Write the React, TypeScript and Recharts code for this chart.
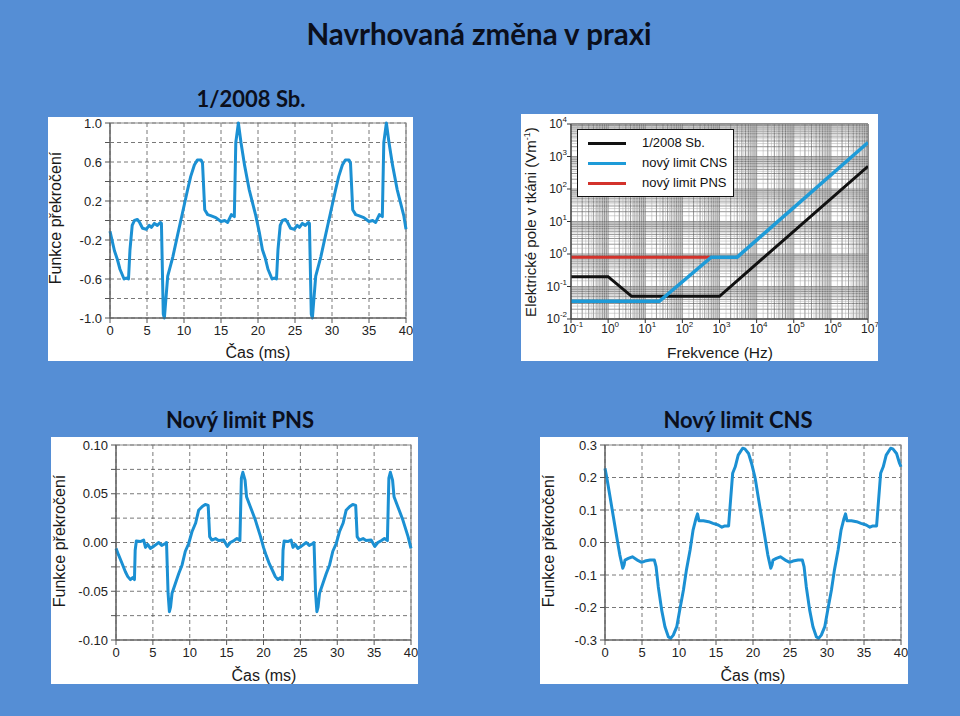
import React from "react";
import {
  LineChart,
  Line,
  XAxis,
  YAxis,
  CartesianGrid,
  ReferenceArea,
  ReferenceLine,
} from "recharts";

// ---- data ----

const timeTicks = [0, 5, 10, 15, 20, 25, 30, 35, 40];

const sbTicks = [-1, -0.8, -0.6, -0.4, -0.2, 0, 0.2, 0.4, 0.6, 0.8, 1];
const sbLabeled = [-1, -0.6, -0.2, 0.2, 0.6, 1];
const pnsTicks = [-0.1, -0.075, -0.05, -0.025, 0, 0.025, 0.05, 0.075, 0.1];
const pnsLabeled = [-0.1, -0.05, 0, 0.05, 0.1];
const cnsTicks = [-0.3, -0.2, -0.1, 0, 0.1, 0.2, 0.3];
const cnsLabeled = [-0.3, -0.2, -0.1, 0, 0.1, 0.2, 0.3];

// 1/2008 Sb. (t in ms, exceedance)
const sbWave: [number, number][] = [
  [0, -0.11], [0.6, -0.31], [1.0, -0.4], [1.35, -0.5], [1.9, -0.6], [2.2, -0.59], [2.5, -0.6],
  [2.7, -0.3], [3.0, -0.05], [3.3, 0.0], [3.7, 0.01], [4.0, -0.02], [4.4, -0.08], [4.9, -0.09],
  [5.3, -0.05], [5.6, -0.07], [6.0, -0.03], [6.4, -0.05], [6.8, -0.02], [6.95, -0.03],
  [7.2, -0.96], [7.35, -1.0], [7.8, -0.57], [8.5, -0.37], [9.1, -0.16], [9.8, 0.08],
  [10.5, 0.32], [10.9, 0.45], [11.4, 0.57], [11.8, 0.62], [12.3, 0.62], [12.5, 0.59],
  [12.8, 0.11], [13.2, 0.06], [13.6, 0.05], [14.3, 0.03], [15.0, -0.01], [15.5, 0.0],
  [15.9, -0.02], [16.4, 0.06], [16.8, 0.04], [17.0, 0.8], [17.35, 1.0], [17.7, 0.8],
  [18.2, 0.56], [18.8, 0.32], [19.7, 0.05],
  [20.2, -0.13], [20.6, -0.3], [21.0, -0.39], [21.35, -0.5], [21.9, -0.6], [22.2, -0.59],
  [22.5, -0.6], [22.7, -0.3], [23.0, -0.05], [23.3, 0.0], [23.7, 0.01], [24.0, -0.02],
  [24.4, -0.08], [24.9, -0.09], [25.3, -0.05], [25.6, -0.07], [26.0, -0.03], [26.4, -0.05],
  [26.8, -0.02], [26.95, -0.03], [27.2, -0.96], [27.35, -1.0], [27.8, -0.57], [28.5, -0.37],
  [29.1, -0.16], [29.8, 0.08], [30.5, 0.32], [30.9, 0.45], [31.4, 0.57], [31.8, 0.62],
  [32.3, 0.62], [32.5, 0.59], [32.8, 0.11], [33.2, 0.06], [33.6, 0.05], [34.3, 0.03],
  [35.0, -0.01], [35.5, 0.0], [35.9, -0.02], [36.4, 0.06], [36.8, 0.04], [37.0, 0.8],
  [37.35, 1.0], [37.7, 0.8], [38.2, 0.56], [38.8, 0.32], [39.7, 0.05], [40, -0.09],
];

// Nový limit PNS
const pnsWave: [number, number][] = [
  [0, -0.006], [0.36, -0.013], [0.8, -0.021], [1.27, -0.03], [1.6, -0.035], [1.95, -0.038],
  [2.26, -0.036], [2.5, -0.038], [2.6, -0.008], [2.76, 0.0015], [3.3, 0.001], [3.75, 0.0025],
  [4.0, -0.005], [4.3, -0.002], [4.66, -0.006], [5.1, -0.004], [5.8, 0.0], [6.2, -0.003],
  [6.7, -0.001], [6.85, 0.0], [7.06, -0.052], [7.24, -0.071], [7.4, -0.066], [7.6, -0.052],
  [8.05, -0.042], [8.5, -0.032], [8.96, -0.023], [9.4, -0.009], [9.86, -0.001], [10.3, 0.011],
  [10.8, 0.02], [11.2, 0.033], [11.7, 0.037], [12.1, 0.039], [12.5, 0.038], [12.7, 0.006],
  [13.0, 0.0025], [13.5, 0.004], [13.9, 0.002], [14.6, 0.0025], [15.1, -0.004], [15.5, 0.0],
  [16.0, 0.002], [16.4, 0.004], [16.8, 0.002], [17.0, 0.066], [17.2, 0.072], [17.5, 0.064],
  [17.7, 0.047], [18.2, 0.037], [18.9, 0.023], [19.6, 0.006],
  [20.0, -0.005], [20.4, -0.014], [20.8, -0.022], [21.3, -0.03], [21.6, -0.035], [21.95, -0.038],
  [22.3, -0.036], [22.55, -0.038], [22.65, -0.008], [22.8, 0.0015], [23.3, 0.001], [23.75, 0.0025],
  [24.0, -0.005], [24.3, -0.002], [24.66, -0.006], [25.1, -0.004], [25.8, 0.0], [26.2, -0.003],
  [26.7, -0.001], [26.85, 0.0], [27.06, -0.052], [27.24, -0.071], [27.4, -0.066], [27.6, -0.052],
  [28.05, -0.042], [28.5, -0.032], [28.96, -0.023], [29.4, -0.009], [29.86, -0.001], [30.3, 0.011],
  [30.8, 0.02], [31.2, 0.033], [31.7, 0.037], [32.1, 0.039], [32.5, 0.038], [32.7, 0.006],
  [33.0, 0.0025], [33.5, 0.004], [33.9, 0.002], [34.6, 0.0025], [35.1, -0.004], [35.5, 0.0],
  [36.0, 0.002], [36.4, 0.004], [36.8, 0.002], [37.0, 0.066], [37.2, 0.072], [37.5, 0.064],
  [37.7, 0.047], [38.2, 0.037], [38.9, 0.023], [39.6, 0.006], [40, -0.006],
];

// Nový limit CNS
const cnsWave: [number, number][] = [
  [0, 0.228], [0.3, 0.192], [0.68, 0.141], [1.13, 0.079], [1.58, 0.018], [2.0, -0.038],
  [2.4, -0.079], [2.57, -0.069], [2.7, -0.054], [3.15, -0.049], [3.7, -0.044], [4.05, -0.049],
  [4.5, -0.056], [4.95, -0.061], [5.4, -0.057], [6.1, -0.054], [6.67, -0.054], [6.9, -0.074],
  [7.2, -0.136], [7.66, -0.208], [8.1, -0.259], [8.56, -0.29], [8.87, -0.295], [9.23, -0.285],
  [9.7, -0.259], [10.1, -0.208], [10.6, -0.146], [11.0, -0.085], [11.5, -0.023], [11.9, 0.038],
  [12.3, 0.074], [12.5, 0.088], [12.7, 0.067], [13.3, 0.067], [14.0, 0.064], [14.6, 0.059],
  [15.3, 0.054], [15.8, 0.047], [16.2, 0.051], [16.7, 0.051], [16.9, 0.11], [17.25, 0.213],
  [17.6, 0.233], [18.0, 0.269], [18.6, 0.29], [18.9, 0.288], [19.4, 0.274], [19.8, 0.244],
  [20.3, 0.197], [20.7, 0.141], [21.15, 0.079], [21.6, 0.018], [22.0, -0.038], [22.4, -0.079],
  [22.57, -0.069], [22.7, -0.054], [23.15, -0.049], [23.7, -0.044], [24.05, -0.049],
  [24.5, -0.056], [24.95, -0.061], [25.4, -0.057], [26.1, -0.054], [26.67, -0.054], [26.9, -0.074],
  [27.2, -0.136], [27.66, -0.208], [28.1, -0.259], [28.56, -0.29], [28.87, -0.295], [29.23, -0.285],
  [29.7, -0.259], [30.1, -0.208], [30.6, -0.146], [31.0, -0.085], [31.5, -0.023], [31.9, 0.038],
  [32.3, 0.074], [32.5, 0.088], [32.7, 0.067], [33.3, 0.067], [34.0, 0.064], [34.6, 0.059],
  [35.3, 0.054], [35.8, 0.047], [36.2, 0.051], [36.7, 0.051], [36.9, 0.11], [37.25, 0.213],
  [37.6, 0.233], [38.0, 0.269], [38.6, 0.29], [38.9, 0.288], [39.4, 0.274], [39.8, 0.244],
  [40, 0.233],
];

// limits vs frequency (Hz, V/m)
const oldLimit: [number, number][] = [[0.1, 0.2], [1, 0.2], [4.3, 0.05], [1000, 0.05], [1e7, 500]];
const cnsLimit: [number, number][] = [[0.1, 0.035], [24, 0.035], [600, 0.8], [3000, 0.8], [1e7, 2700]];
const pnsLimit: [number, number][] = [[0.1, 0.8], [600, 0.8]];

const freqDecades = [-1, 0, 1, 2, 3, 4, 5, 6];
const fieldDecades = [-2, -1, 0, 1, 2, 3];
const gridMults = [1, 2, 3, 4, 5, 6, 7, 8, 9];
const halfMults = [1.5, 2.5, 3.5, 4.5, 5.5, 6.5, 7.5, 8.5, 9.5];

const legendItems = [
  { name: "1/2008 Sb.", color: "#111111" },
  { name: "nový limit CNS", color: "#1e9bd8" },
  { name: "nový limit PNS", color: "#d3322b" },
];

// ---- helpers ----

const WAVE = "#1b90d3";
const TICK_FONT = "'Liberation Sans', Arial, sans-serif";
const HEAD_FONT = "Lato, 'Open Sans', sans-serif";

type Box = { x: number; y: number; w: number; h: number };
type Plot = { l: number; t: number; r: number; b: number };

// small outer margins; the rest of the space goes to the axes
function marginOf() {
  return { top: 0, right: 0, bottom: 2, left: 2 };
}

function near(list: number[], v: number) {
  return list.some((x) => Math.abs(x - v) < 1e-9);
}

function Heading({ x, y, size, children }: { x: number; y: number; size: number; children: React.ReactNode }) {
  return (
    <div
      style={{
        position: "absolute",
        left: x,
        top: y,
        transform: "translate(-50%, -50%)",
        whiteSpace: "nowrap",
        fontFamily: HEAD_FONT,
        fontWeight: 700,
        fontSize: size,
        lineHeight: 1,
        color: "#0b0f1c",
      }}
    >
      {children}
    </div>
  );
}

function AxisTitle({ x, y, rotate, size = 16, children }: { x: number; y: number; rotate?: boolean; size?: number; children: React.ReactNode }) {
  return (
    <div
      style={{
        position: "absolute",
        left: x,
        top: y,
        transform: `translate(-50%, -50%)${rotate ? " rotate(-90deg)" : ""}`,
        whiteSpace: "nowrap",
        fontFamily: TICK_FONT,
        fontSize: size,
        lineHeight: 1,
        color: "#1a1a1a",
      }}
    >
      {children}
    </div>
  );
}

interface WaveProps {
  points: [number, number][];
  box: Box;
  plot: Plot;
  yDomain: [number, number];
  yTicks: number[];
  yLabeled: number[];
  decimals: number;
}

function WaveChart({ points, box, plot, yDomain, yTicks, yLabeled, decimals }: WaveProps) {
  const data = points.map(([t, v]) => ({ t, v }));
  const m = marginOf();
  const yw = plot.l - box.x - m.left;
  const xh = box.y + box.h - plot.b - m.bottom;
  return (
    <div style={{ position: "absolute", left: box.x, top: box.y, width: box.w, height: box.h, background: "#fff" }}>
      <LineChart
        width={box.w}
        height={box.h}
        data={data}
        margin={{ ...m, top: plot.t - box.y, right: box.x + box.w - plot.r }}
      >
        <CartesianGrid stroke="#555" strokeDasharray="4 3" strokeWidth={0.8} />
        <ReferenceArea x1={0} x2={40} y1={yDomain[0]} y2={yDomain[1]} fill="none" stroke="#8a8a8a" strokeWidth={1.2} />
        <XAxis
          dataKey="t"
          type="number"
          domain={[0, 40]}
          ticks={timeTicks}
          interval={0}
          height={xh}
          tickSize={5}
          tickMargin={3}
          stroke="#555"
          tick={{ fontSize: 13, fill: "#222", fontFamily: TICK_FONT }}
        />
        <YAxis
          type="number"
          domain={yDomain}
          ticks={yTicks}
          interval={0}
          width={yw}
          tickSize={5}
          tickMargin={3}
          stroke="#555"
          tick={{ fontSize: 13, fill: "#222", fontFamily: TICK_FONT }}
          tickFormatter={(v: number) => (near(yLabeled, v) ? v.toFixed(decimals) : "")}
        />
        <Line
          dataKey="v"
          type="linear"
          stroke={WAVE}
          strokeWidth={3}
          strokeLinejoin="round"
          dot={false}
          isAnimationActive={false}
        />
      </LineChart>
    </div>
  );
}

function PowerTick(props: any) {
  const { x, y, payload, axis } = props;
  const v = payload.value as number;
  const e = Math.round(Math.log10(v));
  if (Math.abs(v - 10 ** e) > 1e-6 * 10 ** e) return <g />;
  if (axis === "x") {
    return (
      <g>
        <line x1={x} x2={x} y1={y} y2={y + 4} stroke="#333" />
        <text x={x + 2} y={y + 14} textAnchor="middle" fontSize={12} fill="#222" fontFamily={TICK_FONT}>
          <tspan>10</tspan>
          <tspan dy={-6} fontSize={8}>{e}</tspan>
        </text>
      </g>
    );
  }
  return (
    <g>
      <line x1={x - 4} x2={x} y1={y} y2={y} stroke="#333" />
      <text x={x - 4} y={y + 4} textAnchor="end" fontSize={12} fill="#222" fontFamily={TICK_FONT}>
        <tspan>10</tspan>
        <tspan dy={-6} fontSize={8}>{e}</tspan>
      </text>
    </g>
  );
}

function LimitChart() {
  const box: Box = { x: 521, y: 114, w: 357, h: 247 };
  const plot: Plot = { l: 571, t: 124, r: 868, b: 319 };
  const m = marginOf();

  const freqs = Array.from(
    new Set([...oldLimit, ...cnsLimit, ...pnsLimit].map((p) => p[0]))
  ).sort((a, b) => a - b);
  const find = (s: [number, number][], f: number) => s.find((p) => p[0] === f)?.[1];
  const table = freqs.map((f) => ({
    f,
    old: find(oldLimit, f),
    cns: find(cnsLimit, f),
    pns: find(pnsLimit, f),
  }));

  const freqTicks = freqDecades.flatMap((d) => gridMults.map((k) => k * 10 ** d)).concat([1e7]);
  const fieldTicks = fieldDecades.flatMap((d) => gridMults.map((k) => k * 10 ** d)).concat([1e4]);
  const freqHalf = freqDecades.flatMap((d) => halfMults.map((k) => k * 10 ** d));
  const fieldHalf = fieldDecades.flatMap((d) => halfMults.map((k) => k * 10 ** d));

  return (
    <div style={{ position: "absolute", left: box.x, top: box.y, width: box.w, height: box.h, background: "#fff" }}>
      <LineChart
        width={box.w}
        height={box.h}
        data={table}
        margin={{ ...m, top: plot.t - box.y, right: box.x + box.w - plot.r }}
      >
        <CartesianGrid stroke="#5e5e5e" strokeWidth={0.65} />
        {freqHalf.map((v) => (
          <ReferenceLine key={`fx${v}`} x={v} stroke="#a8a8a8" strokeWidth={0.5} />
        ))}
        {fieldHalf.map((v) => (
          <ReferenceLine key={`fy${v}`} y={v} stroke="#a8a8a8" strokeWidth={0.5} />
        ))}
        <ReferenceArea x1={0.1} x2={1e7} y1={0.01} y2={1e4} fill="none" stroke="#555" strokeWidth={1} />
        <XAxis
          dataKey="f"
          type="number"
          scale="log"
          domain={[0.1, 1e7]}
          allowDataOverflow
          ticks={freqTicks}
          interval={0}
          height={box.y + box.h - plot.b - m.bottom}
          tickSize={0}
          tickMargin={0}
          tickLine={false}
          stroke="#444"
          tick={(p: any) => <PowerTick {...p} axis="x" />}
        />
        <YAxis
          type="number"
          scale="log"
          domain={[0.01, 1e4]}
          allowDataOverflow
          ticks={fieldTicks}
          interval={0}
          width={plot.l - box.x - m.left}
          tickSize={0}
          tickMargin={0}
          tickLine={false}
          stroke="#444"
          tick={(p: any) => <PowerTick {...p} axis="y" />}
        />
        <Line dataKey="old" type="linear" stroke={legendItems[0].color} strokeWidth={3} connectNulls dot={false} isAnimationActive={false} />
        <Line dataKey="pns" type="linear" stroke={legendItems[2].color} strokeWidth={3} connectNulls dot={false} isAnimationActive={false} />
        <Line dataKey="cns" type="linear" stroke={legendItems[1].color} strokeWidth={3.5} connectNulls dot={false} isAnimationActive={false} />
      </LineChart>
      <div
        style={{
          position: "absolute",
          left: 577 - box.x,
          top: 129 - box.y,
          width: 155,
          height: 66,
          background: "#fff",
          border: "1px solid #111",
          fontFamily: TICK_FONT,
          fontSize: 13,
          color: "#111",
        }}
      >
        {legendItems.map((it, i) => (
          <div key={it.name} style={{ position: "absolute", left: 0, top: 4 + i * 20, height: 18, width: 155 }}>
            <div style={{ position: "absolute", left: 10, top: 8, width: 38, height: 3, background: it.color }} />
            <div style={{ position: "absolute", left: 64, top: 1, lineHeight: "16px", whiteSpace: "nowrap" }}>{it.name}</div>
          </div>
        ))}
      </div>
    </div>
  );
}

export default function App() {
  return (
    <div
      style={{
        position: "absolute",
        left: 0,
        top: 0,
        width: 960,
        height: 716,
        background: "#558ed5",
        overflow: "hidden",
      }}
    >
      <Heading x={479} y={34} size={29.5}>Navrhovaná změna v praxi</Heading>
      <Heading x={251} y={99} size={22}>1/2008 Sb.</Heading>
      <Heading x={240} y={420} size={22}>Nový limit PNS</Heading>
      <Heading x={738} y={420} size={22}>Nový limit CNS</Heading>

      <WaveChart
        points={sbWave}
        box={{ x: 48, y: 117, w: 365, h: 244 }}
        plot={{ l: 110, t: 123, r: 406, b: 318 }}
        yDomain={[-1, 1]}
        yTicks={sbTicks}
        yLabeled={sbLabeled}
        decimals={1}
      />
      <AxisTitle x={56} y={218} rotate>Funkce překročení</AxisTitle>
      <AxisTitle x={258} y={353}>Čas (ms)</AxisTitle>

      <LimitChart />
      <AxisTitle x={530} y={222} rotate size={15}>
        Elektrické pole v tkáni (Vm<sup style={{ fontSize: 9 }}>-1</sup>)
      </AxisTitle>
      <AxisTitle x={720} y={353} size={15.5}>Frekvence (Hz)</AxisTitle>

      <WaveChart
        points={pnsWave}
        box={{ x: 51, y: 437, w: 367, h: 247 }}
        plot={{ l: 116, t: 445, r: 411, b: 640 }}
        yDomain={[-0.1, 0.1]}
        yTicks={pnsTicks}
        yLabeled={pnsLabeled}
        decimals={2}
      />
      <AxisTitle x={60} y={541} rotate>Funkce překročení</AxisTitle>
      <AxisTitle x={264} y={676}>Čas (ms)</AxisTitle>

      <WaveChart
        points={cnsWave}
        box={{ x: 540, y: 437, w: 368, h: 247 }}
        plot={{ l: 605, t: 445, r: 901, b: 640 }}
        yDomain={[-0.3, 0.3]}
        yTicks={cnsTicks}
        yLabeled={cnsLabeled}
        decimals={1}
      />
      <AxisTitle x={549} y={541} rotate>Funkce překročení</AxisTitle>
      <AxisTitle x={753} y={676}>Čas (ms)</AxisTitle>
    </div>
  );
}
